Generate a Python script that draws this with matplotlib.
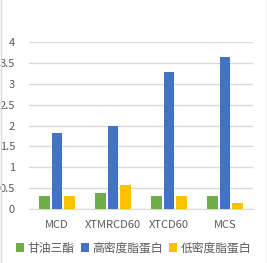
import numpy as np
import matplotlib.pyplot as plt
from matplotlib.lines import Line2D
from matplotlib.patches import Patch

plt.rcParams['font.family'] = ['Noto Sans CJK SC', 'DejaVu Sans']

categories = ['MCD', 'XTMRCD60', 'XTCD60', 'MCS']
series_names = ['甘油三酯', '高密度脂蛋白', '低密度脂蛋白']
tg = [0.30, 0.39, 0.32, 0.30]
hdl = [1.83, 1.98, 3.27, 3.63]
ldl = [0.32, 0.58, 0.30, 0.15]
colors = ['#70AD47', '#4472C4', '#FFC000']

fig = plt.figure(figsize=(2.67, 2.63), dpi=100)
ax = fig.add_axes([29 / 267, 1 - 209 / 263, 224 / 267, 167 / 263])

x = np.arange(len(categories))
w = 0.18
off = 0.223
for vals, c, k in zip([tg, hdl, ldl], colors, [-1, 0, 1]):
    ax.bar(x + k * off, vals, width=w, color=c, zorder=3)

ax.set_xlim(-0.5, len(categories) - 0.5)
ax.set_ylim(0, 4)
ax.set_yticks(np.arange(0, 4.01, 0.5))
ax.set_yticklabels(['0', '0.5', '1', '1.5', '2', '2.5', '3', '3.5', '4'])
ax.set_xticks(x)
ax.set_xticklabels(categories)
ax.grid(axis='y', color='#D9D9D9', linewidth=1, zorder=0)
for s in ['top', 'right', 'left']:
    ax.spines[s].set_visible(False)
ax.spines['bottom'].set_color('#D9D9D9')
ax.tick_params(axis='both', length=0, labelsize=8, colors='#595959')
ax.tick_params(axis='x', pad=8)
ax.tick_params(axis='y', pad=10)

handles = [Patch(facecolor=c) for c in colors]
fig.legend(handles, series_names, loc='center', bbox_to_anchor=(0.5, 1 - 248 / 263),
           ncol=3, frameon=False, fontsize=8.5, labelcolor='#595959',
           handlelength=0.7, handleheight=0.7, handletextpad=0.3, columnspacing=0.5)

fig.add_artist(Line2D([0.5 / 267, 0.5 / 267], [0, 1], color='#D9D9D9', lw=1))
fig.add_artist(Line2D([1 - 0.5 / 267, 1 - 0.5 / 267], [0, 1], color='#D9D9D9', lw=1))

fig.savefig('out.png', dpi=100)
